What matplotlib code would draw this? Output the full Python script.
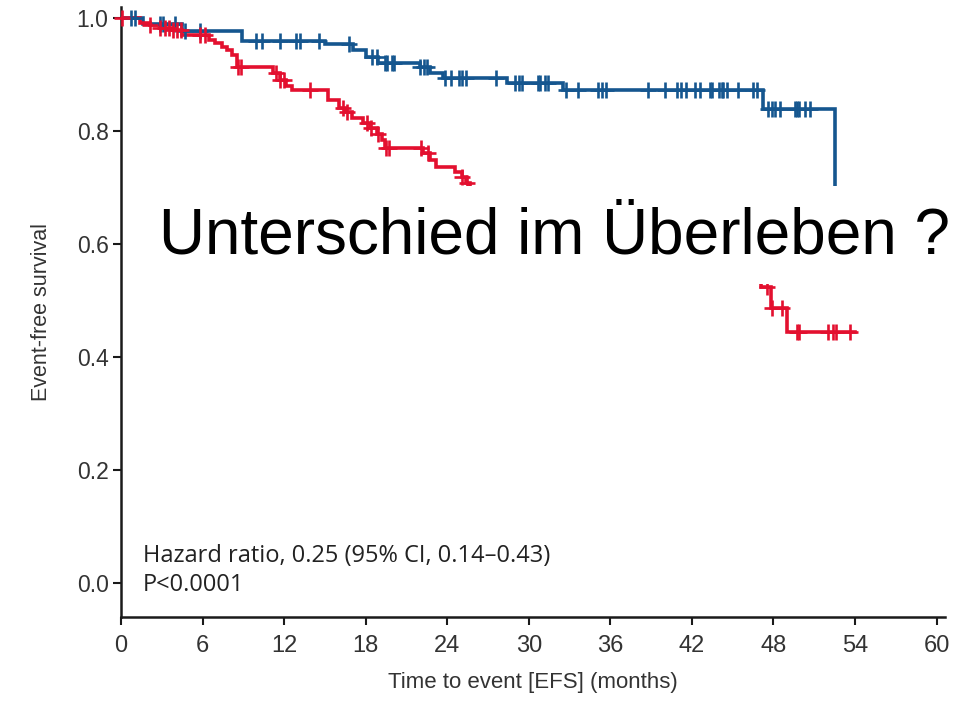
import numpy as np
import matplotlib
matplotlib.use("Agg")
import matplotlib.pyplot as plt
from matplotlib.patches import Rectangle

# Kaplan-Meier step data (months, survival probability after each step)
blue_t = [0, 1.6, 4.5, 8.9, 15.0, 17.1, 18.0, 18.9, 22.0, 22.7, 23.7, 28.4, 32.5, 47.2, 52.5]
blue_s = [1.0, 0.990, 0.978, 0.960, 0.954, 0.943, 0.932, 0.920, 0.913, 0.903, 0.894, 0.885, 0.873, 0.839, 0.60]
blue_cens = [0.7, 1.0, 2.9, 3.1, 4.0, 4.7, 5.8, 9.9, 10.4, 11.7, 12.9, 13.2, 14.6, 16.8,
             18.5, 18.8, 19.4, 19.6, 19.9, 20.1, 22.0, 22.3, 22.5, 23.8, 24.3, 24.9, 25.1,
             25.4, 27.6, 29.0, 29.3, 29.5, 30.7, 30.8, 31.2, 31.4, 32.7, 33.6, 35.1, 35.4,
             35.7, 38.8, 40.0, 40.9, 41.2, 41.6, 42.2, 42.6, 43.3, 43.5, 44.0, 44.2, 44.3,
             44.6, 45.4, 46.5, 46.8, 47.6, 47.9, 48.1, 48.5, 49.6, 49.7, 49.9, 50.3, 50.7]

red_t = [0, 1.4, 2.1, 2.9, 3.75, 4.5, 6.5, 6.9, 7.4, 7.8, 8.2, 8.5, 11.2, 11.7, 12.1, 12.6,
         15.2, 16.0, 16.5, 17.0, 17.8, 18.3, 18.8, 19.2, 19.4, 22.2, 22.7, 23.2, 24.6, 25.1,
         25.4, 25.7, 47.1, 47.8, 49.0, 54.0]
red_s = [1.0, 0.991, 0.988, 0.982, 0.979, 0.970, 0.961, 0.956, 0.949, 0.943, 0.935, 0.913,
         0.903, 0.890, 0.881, 0.873, 0.855, 0.842, 0.834, 0.823, 0.814, 0.805, 0.796, 0.784,
         0.770, 0.761, 0.749, 0.736, 0.727, 0.719, 0.708, 0.69, 0.524, 0.487, 0.444, 0.444]
red_cens = [0.1, 2.1, 2.9, 3.2, 3.5, 3.8, 4.1, 4.4, 5.8, 6.2, 8.6, 8.8, 11.4, 11.7, 12.0,
            13.9, 16.3, 16.6, 18.1, 18.4, 18.9, 19.5, 19.7, 22.1, 22.6, 25.1, 25.45,
            47.5, 47.9, 48.6, 49.7, 49.9, 52.0, 52.4, 52.6, 53.6]

x_ticks = [0, 6, 12, 18, 24, 30, 36, 42, 48, 54, 60]
y_ticks = [0.0, 0.2, 0.4, 0.6, 0.8, 1.0]

BLUE = "#15568f"
RED = "#e3102f"
AXC = "#1a1a1a"
TXT = "#333333"

sans = ["Liberation Sans", "DejaVu Sans"]


def level_at(times, surv, t):
    idx = np.searchsorted(times, t, side="right") - 1
    return np.asarray(surv)[idx]


fig = plt.figure(figsize=(9.76, 7.01), dpi=100)
ax = fig.add_axes([0.124, 0.120, 0.844, 0.870])

for t, s, c, col in [(blue_t, blue_s, blue_cens, BLUE), (red_t, red_s, red_cens, RED)]:
    ax.plot(t, s, drawstyle="steps-post", color=col, lw=2.6, solid_joinstyle="miter", zorder=3)
    ax.plot(c, level_at(t, s, c), ls="none", marker="+", ms=11, mew=1.9, color=col,
            zorder=4, clip_on=False)

ax.set_xlim(0, 60.6)
ax.set_ylim(-0.06, 1.02)
ax.set_xticks(x_ticks)
ax.set_yticks(y_ticks)
ax.set_yticklabels([f"{v:.1f}" for v in y_ticks], fontsize=16.5, color=TXT, family=sans)
ax.set_xticklabels([str(v) for v in x_ticks], fontsize=17, color=TXT, family=sans)
for side in ("top", "right"):
    ax.spines[side].set_visible(False)
for side in ("left", "bottom"):
    ax.spines[side].set_linewidth(1.8)
    ax.spines[side].set_color(AXC)
ax.tick_params(axis="both", direction="out", length=6, width=1.5, color=AXC)
ax.tick_params(axis="y", pad=3)
ax.tick_params(axis="x", pad=7)

ax.set_xlabel("Time to event [EFS] (months)", fontsize=16, color=TXT,
              family=sans, labelpad=11)
ax.set_ylabel("Event-free survival", fontsize=15.5, color=TXT, family=sans,
              labelpad=18)

ax.text(1.6, 0.048, "Hazard ratio, 0.25 (95% CI, 0.14\u20130.43)", fontsize=17,
        family="Open Sans", color="#222222", va="center")
ax.text(1.6, -0.003, "P<0.0001", fontsize=17, family="Open Sans", color="#222222",
        va="center")

# Overlay caption on a white panel
fig.patches.append(Rectangle((0.154, 0.595), 0.846, 0.140, transform=fig.transFigure,
                             facecolor="white", edgecolor="none", zorder=10))
fig.text(0.568, 0.662, "Unterschied im \u00dcberleben ?", fontsize=46,
         family="Liberation Sans", color="black", ha="center", va="center", zorder=11)

fig.savefig("out.png", dpi=100)
